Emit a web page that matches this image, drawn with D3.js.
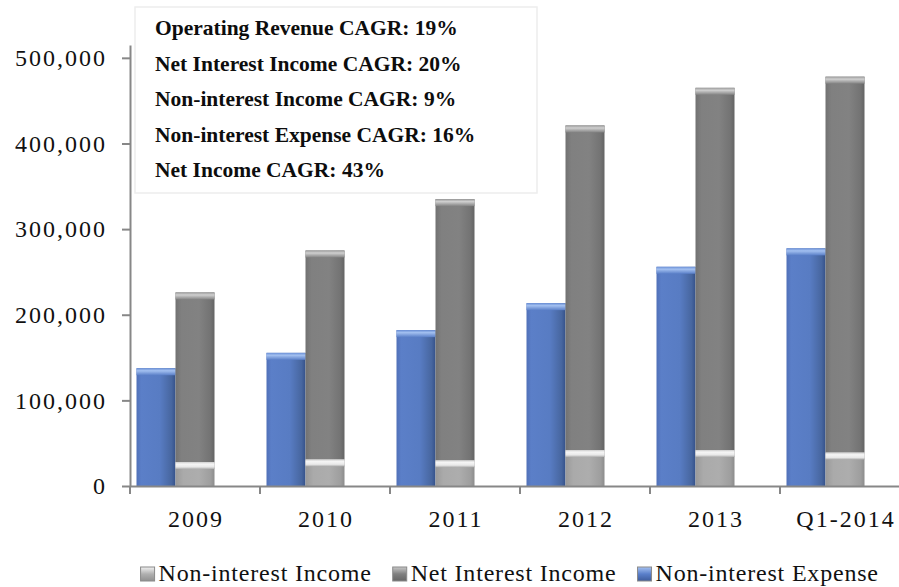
<!DOCTYPE html>
<html>
<head>
<meta charset="utf-8">
<script src="https://cdn.jsdelivr.net/npm/d3@7"></script>
<style>
  html, body { margin: 0; padding: 0; background: #fff; }
  svg { display: block; font-family: "Liberation Serif", "Times New Roman", serif; }
</style>
</head>
<body>
<svg id="chart" width="899" height="587"></svg>
<script>
// Yearly figures (same units as the value axis)
const categories = ["2009", "2010", "2011", "2012", "2013", "Q1-2014"];
const nonInterestIncome = [28000, 31000, 30000, 42000, 42000, 39000];
const netInterestIncome = [198000, 244000, 305000, 379000, 423000, 439000];
const nonInterestExpense = [137500, 155500, 182000, 213500, 256000, 277500];
const yTicks = [0, 100000, 200000, 300000, 400000, 500000];
const cagrNotes = [
  "Operating Revenue CAGR: 19%",
  "Net Interest Income CAGR: 20%",
  "Non-interest Income CAGR: 9%",
  "Non-interest Expense CAGR: 16%",
  "Net Income CAGR: 43%"
];
const legendItems = ["Non-interest Income", "Net Interest Income", "Non-interest Expense"];

const svg = d3.select("#chart");
const defs = svg.append("defs");

const AXIS = "#878787";
const NUM_LS = 2;    // letter spacing for numeric / category labels
const LEG_LS = 0.8;  // letter spacing for legend text

// ---- gradients for the glossy bar look ----
function hGrad(id, stops) {
  const g = defs.append("linearGradient").attr("id", id)
    .attr("x1", "0").attr("x2", "1").attr("y1", "0").attr("y2", "0");
  stops.forEach(([o, c]) => g.append("stop").attr("offset", o).attr("stop-color", c));
}
function vGrad(id, stops) {
  const g = defs.append("linearGradient").attr("id", id)
    .attr("x1", "0").attr("x2", "0").attr("y1", "0").attr("y2", "1");
  stops.forEach(([o, c]) => g.append("stop").attr("offset", o).attr("stop-color", c));
}
hGrad("blueBody", [["0", "#5070b8"], ["0.12", "#5b7fc8"], ["0.6", "#587cc3"], ["0.9", "#47669f"], ["1", "#34518a"]]);
vGrad("blueCap", [["0", "#6a8fd6"], ["0.35", "#a3c0f0"], ["1", "#5a7fc8"]]);
hGrad("darkBody", [["0", "#717171"], ["0.15", "#808080"], ["0.6", "#828282"], ["0.9", "#737373"], ["1", "#646464"]]);
vGrad("darkCap", [["0", "#9a9a9a"], ["0.35", "#d0d0d0"], ["1", "#838383"]]);
hGrad("lightBody", [["0", "#999999"], ["0.2", "#aaaaaa"], ["0.6", "#adadad"], ["0.9", "#9e9e9e"], ["1", "#8c8c8c"]]);
vGrad("lightCap", [["0", "#d0d0d0"], ["0.3", "#f5f5f5"], ["0.7", "#e8e8e8"], ["1", "#acacac"]]);
vGrad("legBlue", [["0", "#a6c2f2"], ["0.5", "#5a7fca"], ["1", "#3e5c9c"]]);
vGrad("legDark", [["0", "#c8c8c8"], ["0.5", "#808080"], ["1", "#666666"]]);
vGrad("legLight", [["0", "#f2f2f2"], ["0.5", "#b0b0b0"], ["1", "#909090"]]);

// ---- scales ----
const x = d3.scaleBand().domain(categories).range([130, 910]).padding(0);
const slot = d3.scaleBand().domain(["expense", "income", "gap"])
  .range([0, x.bandwidth()]).paddingInner(0).paddingOuter(1 / 6);
const y = d3.scaleLinear().domain([0, 515000]).range([486, 45]);

// ---- bars ----
function bar(g, x0, w, v0, v1, body, cap) {
  const top = y(v1), bottom = y(v0);
  g.append("rect").attr("x", x0).attr("y", top).attr("width", w)
    .attr("height", bottom - top).attr("fill", `url(#${body})`);
  g.append("rect").attr("x", x0).attr("y", top).attr("width", w)
    .attr("height", Math.min(7, bottom - top)).attr("fill", `url(#${cap})`);
}

const bars = svg.append("g");
categories.forEach((c, i) => {
  const g = bars.append("g");
  const bx = x(c) + slot("expense");
  const gx = x(c) + slot("income");
  const w = slot.bandwidth();
  bar(g, bx, w, 0, nonInterestExpense[i], "blueBody", "blueCap");
  bar(g, gx, w, nonInterestIncome[i], nonInterestIncome[i] + netInterestIncome[i], "darkBody", "darkCap");
  bar(g, gx, w, 0, nonInterestIncome[i], "lightBody", "lightCap");
});

// ---- y axis ----
const yAxis = svg.append("g").attr("transform", "translate(130,0)")
  .call(d3.axisLeft(y).tickValues(yTicks).tickSize(8).tickSizeOuter(0)
    .tickPadding(15).tickFormat(d3.format(",")));
yAxis.selectAll("path, line").attr("stroke", AXIS).attr("stroke-width", 2);
yAxis.selectAll("text").attr("font-size", 24).attr("fill", "#111")
  .attr("font-family", "Liberation Serif").style("letter-spacing", NUM_LS + "px");

// ---- x axis ----
const xAxis = svg.append("g").attr("transform", "translate(0,486)")
  .call(d3.axisBottom(x).tickSize(0).tickSizeOuter(0).tickPadding(24));
xAxis.select("path").attr("stroke", AXIS).attr("stroke-width", 2);
xAxis.selectAll("text").attr("font-size", 24).attr("fill", "#111")
  .attr("font-family", "Liberation Serif").style("letter-spacing", NUM_LS + "px")
  .attr("dx", NUM_LS / 2);
// category separators
xAxis.selectAll(".sep").data(categories).enter().append("line")
  .attr("class", "sep")
  .attr("x1", d => x(d)).attr("x2", d => x(d))
  .attr("y1", 0).attr("y2", 8)
  .attr("stroke", AXIS).attr("stroke-width", 2);

// ---- CAGR notes box ----
const note = svg.append("g");
note.append("rect").attr("x", 135).attr("y", 7).attr("width", 402).attr("height", 186)
  .attr("fill", "#fff").attr("stroke", "#ededed").attr("stroke-width", 1.5);
note.selectAll("text").data(cagrNotes).enter().append("text")
  .attr("x", 155).attr("y", (d, i) => 35.3 + i * 35.5)
  .attr("font-size", 21.5).attr("font-weight", "bold").attr("fill", "#0d0d0d")
  .text(d => d);

// ---- legend ----
const legendFills = ["legLight", "legDark", "legBlue"];
const legend = svg.append("g");
const items = legendItems.map((name, i) => {
  const g = legend.append("g");
  g.append("rect").attr("width", 14).attr("height", 14).attr("y", 567)
    .attr("fill", `url(#${legendFills[i]})`).attr("stroke", "#8a8a8a").attr("stroke-width", 1);
  const t = g.append("text").attr("x", 18).attr("y", 581)
    .attr("font-size", 24).attr("fill", "#111").style("letter-spacing", LEG_LS + "px")
    .text(name);
  return { g, w: 18 + t.node().getComputedTextLength() };
});
const gapBetween = 21;
const total = d3.sum(items, d => d.w) + gapBetween * (items.length - 1);
let lx = 878 + LEG_LS - total;
items.forEach(it => {
  it.g.attr("transform", `translate(${lx},0)`);
  lx += it.w + gapBetween;
});
</script>
</body>
</html>
